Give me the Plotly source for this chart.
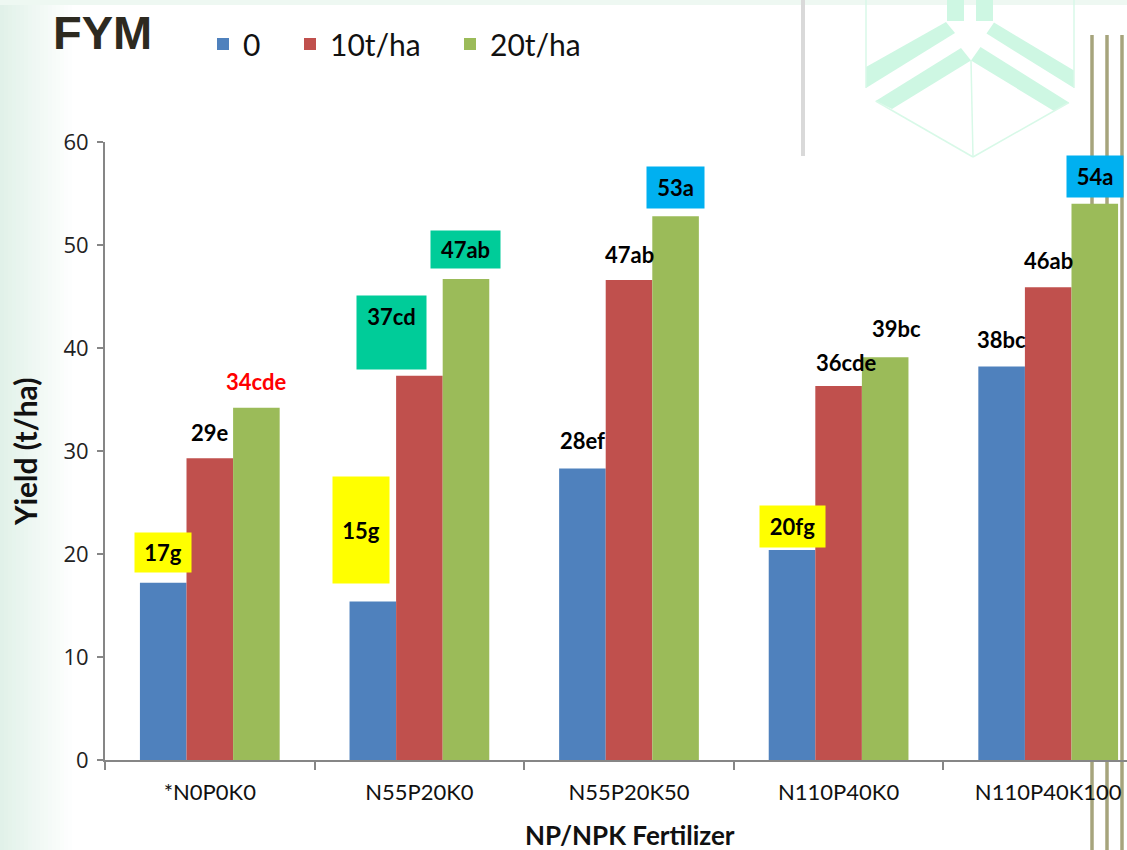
import plotly.graph_objects as go

# ---- data -------------------------------------------------------------
categories = ["*N0P0K0", "N55P20K0", "N55P20K50", "N110P40K0", "N110P40K100"]
series_names = ["0", "10t/ha", "20t/ha"]

yield_fym0 = [17.2, 15.4, 28.3, 20.4, 38.2]
yield_fym10 = [29.3, 37.3, 46.6, 36.3, 45.9]
yield_fym20 = [34.2, 46.7, 52.8, 39.1, 54.0]

letters_fym0 = ["g", "g", "ef", "fg", "bc"]
letters_fym10 = ["e", "cd", "ab", "cde", "ab"]
letters_fym20 = ["cde", "ab", "a", "bc", "a"]

y_ticks = [0, 10, 20, 30, 40, 50, 60]

# ---- styling ----------------------------------------------------------
bar_colors = ["#4f81bd", "#c0504d", "#9bbb59"]
YELLOW, TEAL, CYAN = "#ffff00", "#00cc99", "#00b0f0"

W, H = 1127, 850
M_L, M_R, M_T, M_B = 105, 0, 142, 90
PLOT_W = W - M_L - M_R
PLOT_H = H - M_T - M_B
CAT_PX = 209.6  # pixel width of one category slot


def px_x(p):
    return (p - M_L) / PLOT_W


def px_y(p):
    return (H - M_B - p) / PLOT_H


def poly(points):
    s = "M" + " L".join(f"{px_x(x):.5f},{px_y(y):.5f}" for x, y in points)
    return s + " Z"


# label placement: (series, category) -> (y centre, x shift px, box colour, box w, box h, text colour)
label_place = {
    (0, 0): (20.1, 0, YELLOW, 56, 39, "black"),
    (1, 0): (31.8, 0, None, 0, 0, "black"),
    (2, 0): (36.7, 0, None, 0, 0, "#ff0000"),
    (0, 1): (22.3, -12, YELLOW, 56, 106, "black"),
    (1, 1): (41.55, -28, TEAL, 69, 73, "black"),
    (2, 1): (49.55, 0, TEAL, 69, 37, "black"),
    (0, 2): (31.0, 0, None, 0, 0, "black"),
    (1, 2): (49.1, 0, None, 0, 0, "black"),
    (2, 2): (55.6, 0, CYAN, 57, 41, "black"),
    (0, 3): (22.65, 0, YELLOW, 65, 41, "black"),
    (1, 3): (38.6, 7, None, 0, 0, "black"),
    (2, 3): (41.9, 11, None, 0, 0, "black"),
    (0, 4): (40.85, 0, None, 0, 0, "black"),
    (1, 4): (48.5, 0, None, 0, 0, "black"),
    (2, 4): (56.65, 0, CYAN, 56, 41, "black"),
}

values = [yield_fym0, yield_fym10, yield_fym20]
letters = [letters_fym0, letters_fym10, letters_fym20]

fig = go.Figure()
legend_ids = ["legend", "legend2", "legend3"]
for s, name in enumerate(series_names):
    fig.add_trace(go.Bar(
        name=name,
        x=categories,
        y=values[s],
        marker=dict(color=bar_colors[s], line=dict(width=0)),
        legend=legend_ids[s],
        hoverinfo="skip",
    ))

# value + significance letters above bars
annotations = []
label_font = dict(family="Lato, Arial, sans-serif", size=22)
bar_w = (1 - 0.3333) / 3
for (s, c), (yc, xs, box, bw, bh, col) in label_place.items():
    text = f"<b>{values[s][c]:.0f}{letters[s][c]}</b>"
    ann = dict(
        x=c + (s - 1) * bar_w, y=yc, xref="x", yref="y",
        text=text, showarrow=False, xanchor="center", yanchor="middle",
        xshift=xs, font=dict(color=col, **label_font),
    )
    if box:
        ann.update(bgcolor=box, borderpad=0, width=bw, height=bh)
        if bh > 60 and s == 1:
            ann.update(valign="top", borderpad=7, width=bw - 14, height=bh - 14)
    annotations.append(ann)

# axis titles
annotations.append(dict(
    x=px_x(630), y=px_y(835), xref="paper", yref="paper",
    text="<b>NP/NPK Fertilizer</b>", showarrow=False,
    xanchor="center", yanchor="middle",
    font=dict(family="Lato, Arial, sans-serif", size=26, color="#111111"),
))
annotations.append(dict(
    x=px_x(25), y=px_y(452), xref="paper", yref="paper",
    text="<b>Yield (t/ha)</b>", showarrow=False, textangle=-90,
    xanchor="center", yanchor="middle",
    font=dict(family="Lato, Arial, sans-serif", size=30, color="#111111"),
))

# slide background decoration
shapes = []
for i in range(18):
    shapes.append(dict(
        type="rect", xref="paper", yref="paper", layer="below",
        x0=px_x(i * 4), x1=px_x(i * 4 + 4), y0=px_y(H), y1=px_y(0),
        fillcolor="#dcefe5", opacity=max(0.0, 0.85 * (1 - i / 18)), line=dict(width=0),
    ))
shapes.append(dict(type="rect", xref="paper", yref="paper", layer="below",
                   x0=px_x(0), x1=px_x(W), y0=px_y(5), y1=px_y(0),
                   fillcolor="#eef8f2", line=dict(width=0)))
shapes.append(dict(type="line", xref="paper", yref="paper", layer="below",
                   x0=px_x(803), x1=px_x(803), y0=px_y(0), y1=px_y(156),
                   line=dict(color="#d9d9d9", width=4)))
mint = "#cef7e3"
for pts in [
    [(946, 22), (955, 33), (866, 88), (866, 67)],
    [(994, 22.5), (986.5, 33.6), (1074, 88), (1074, 70.6)],
    [(961, 48), (971, 60.5), (892, 109), (875.6, 101)],
    [(980.5, 47), (971, 60.5), (1054, 111), (1069, 102.5)],
    [(947, 0), (964, 0), (964, 21), (947, 21)],
    [(976, 0), (993, 0), (993, 21), (976, 21)],
]:
    shapes.append(dict(type="path", xref="paper", yref="paper", layer="below",
                       path=poly(pts), fillcolor=mint, line=dict(width=0)))
for (xa, ya), (xb, yb) in [
    ((875.6, 101), (973, 157)), ((973, 157), (1069, 102.5)),
    ((971, 60.5), (973, 157)), ((866, 0), (866, 88)), ((1074, 0), (1074, 88)),
]:
    shapes.append(dict(type="line", xref="paper", yref="paper", layer="below",
                       x0=px_x(xa), y0=px_y(ya), x1=px_x(xb), y1=px_y(yb),
                       line=dict(color="#d8f9e8", width=1.5)))
for xl in (1092, 1107, 1122):
    shapes.append(dict(type="line", xref="paper", yref="paper", layer="below",
                       x0=px_x(xl), x1=px_x(xl), y0=px_y(35), y1=px_y(H),
                       line=dict(color="#a6a47c", width=3.5)))

legend_common = dict(
    orientation="h", yanchor="middle", y=px_y(44), xanchor="left",
    bgcolor="rgba(0,0,0,0)", borderwidth=0,
    font=dict(family="Lato, Arial, sans-serif", size=30, color="#111111"),
)

fig.update_layout(
    width=W, height=H,
    margin=dict(l=M_L, r=M_R, t=M_T, b=M_B, autoexpand=False),
    paper_bgcolor="white", plot_bgcolor="rgba(0,0,0,0)",
    barmode="group", bargap=0.3333, bargroupgap=0,
    title=dict(
        text="<b>FYM</b>", x=53 / W, xref="container", xanchor="left",
        y=1 - 33 / H, yref="container", yanchor="middle",
        font=dict(family="Liberation Sans, Arial, sans-serif", size=47, color="#2d2a20"),
    ),
    legend=dict(x=px_x(203), **legend_common),
    legend2=dict(x=px_x(290), **legend_common),
    legend3=dict(x=px_x(450), **legend_common),
    xaxis=dict(
        type="category", range=[-0.5, 4.5 - 26 / CAT_PX],
        tickson="boundaries", ticks="outside", ticklen=8, tickwidth=1.5,
        tickcolor="#868686", showline=True, linecolor="#868686", linewidth=2,
        showgrid=False, zeroline=False, ticklabelstandoff=12,
        tickfont=dict(family="Lato, Arial, sans-serif", size=22, color="#111111"),
    ),
    yaxis=dict(
        range=[0, 60], tickvals=y_ticks, ticks="outside", ticklen=6, tickwidth=1.5,
        tickcolor="#868686", showline=True, linecolor="#868686", linewidth=2,
        showgrid=False, zeroline=False, ticklabelstandoff=4,
        tickfont=dict(family="Open Sans, Arial, sans-serif", size=22, color="#222222"),
    ),
    annotations=annotations,
    shapes=shapes,
    showlegend=True,
)

fig.write_html("out.html")
